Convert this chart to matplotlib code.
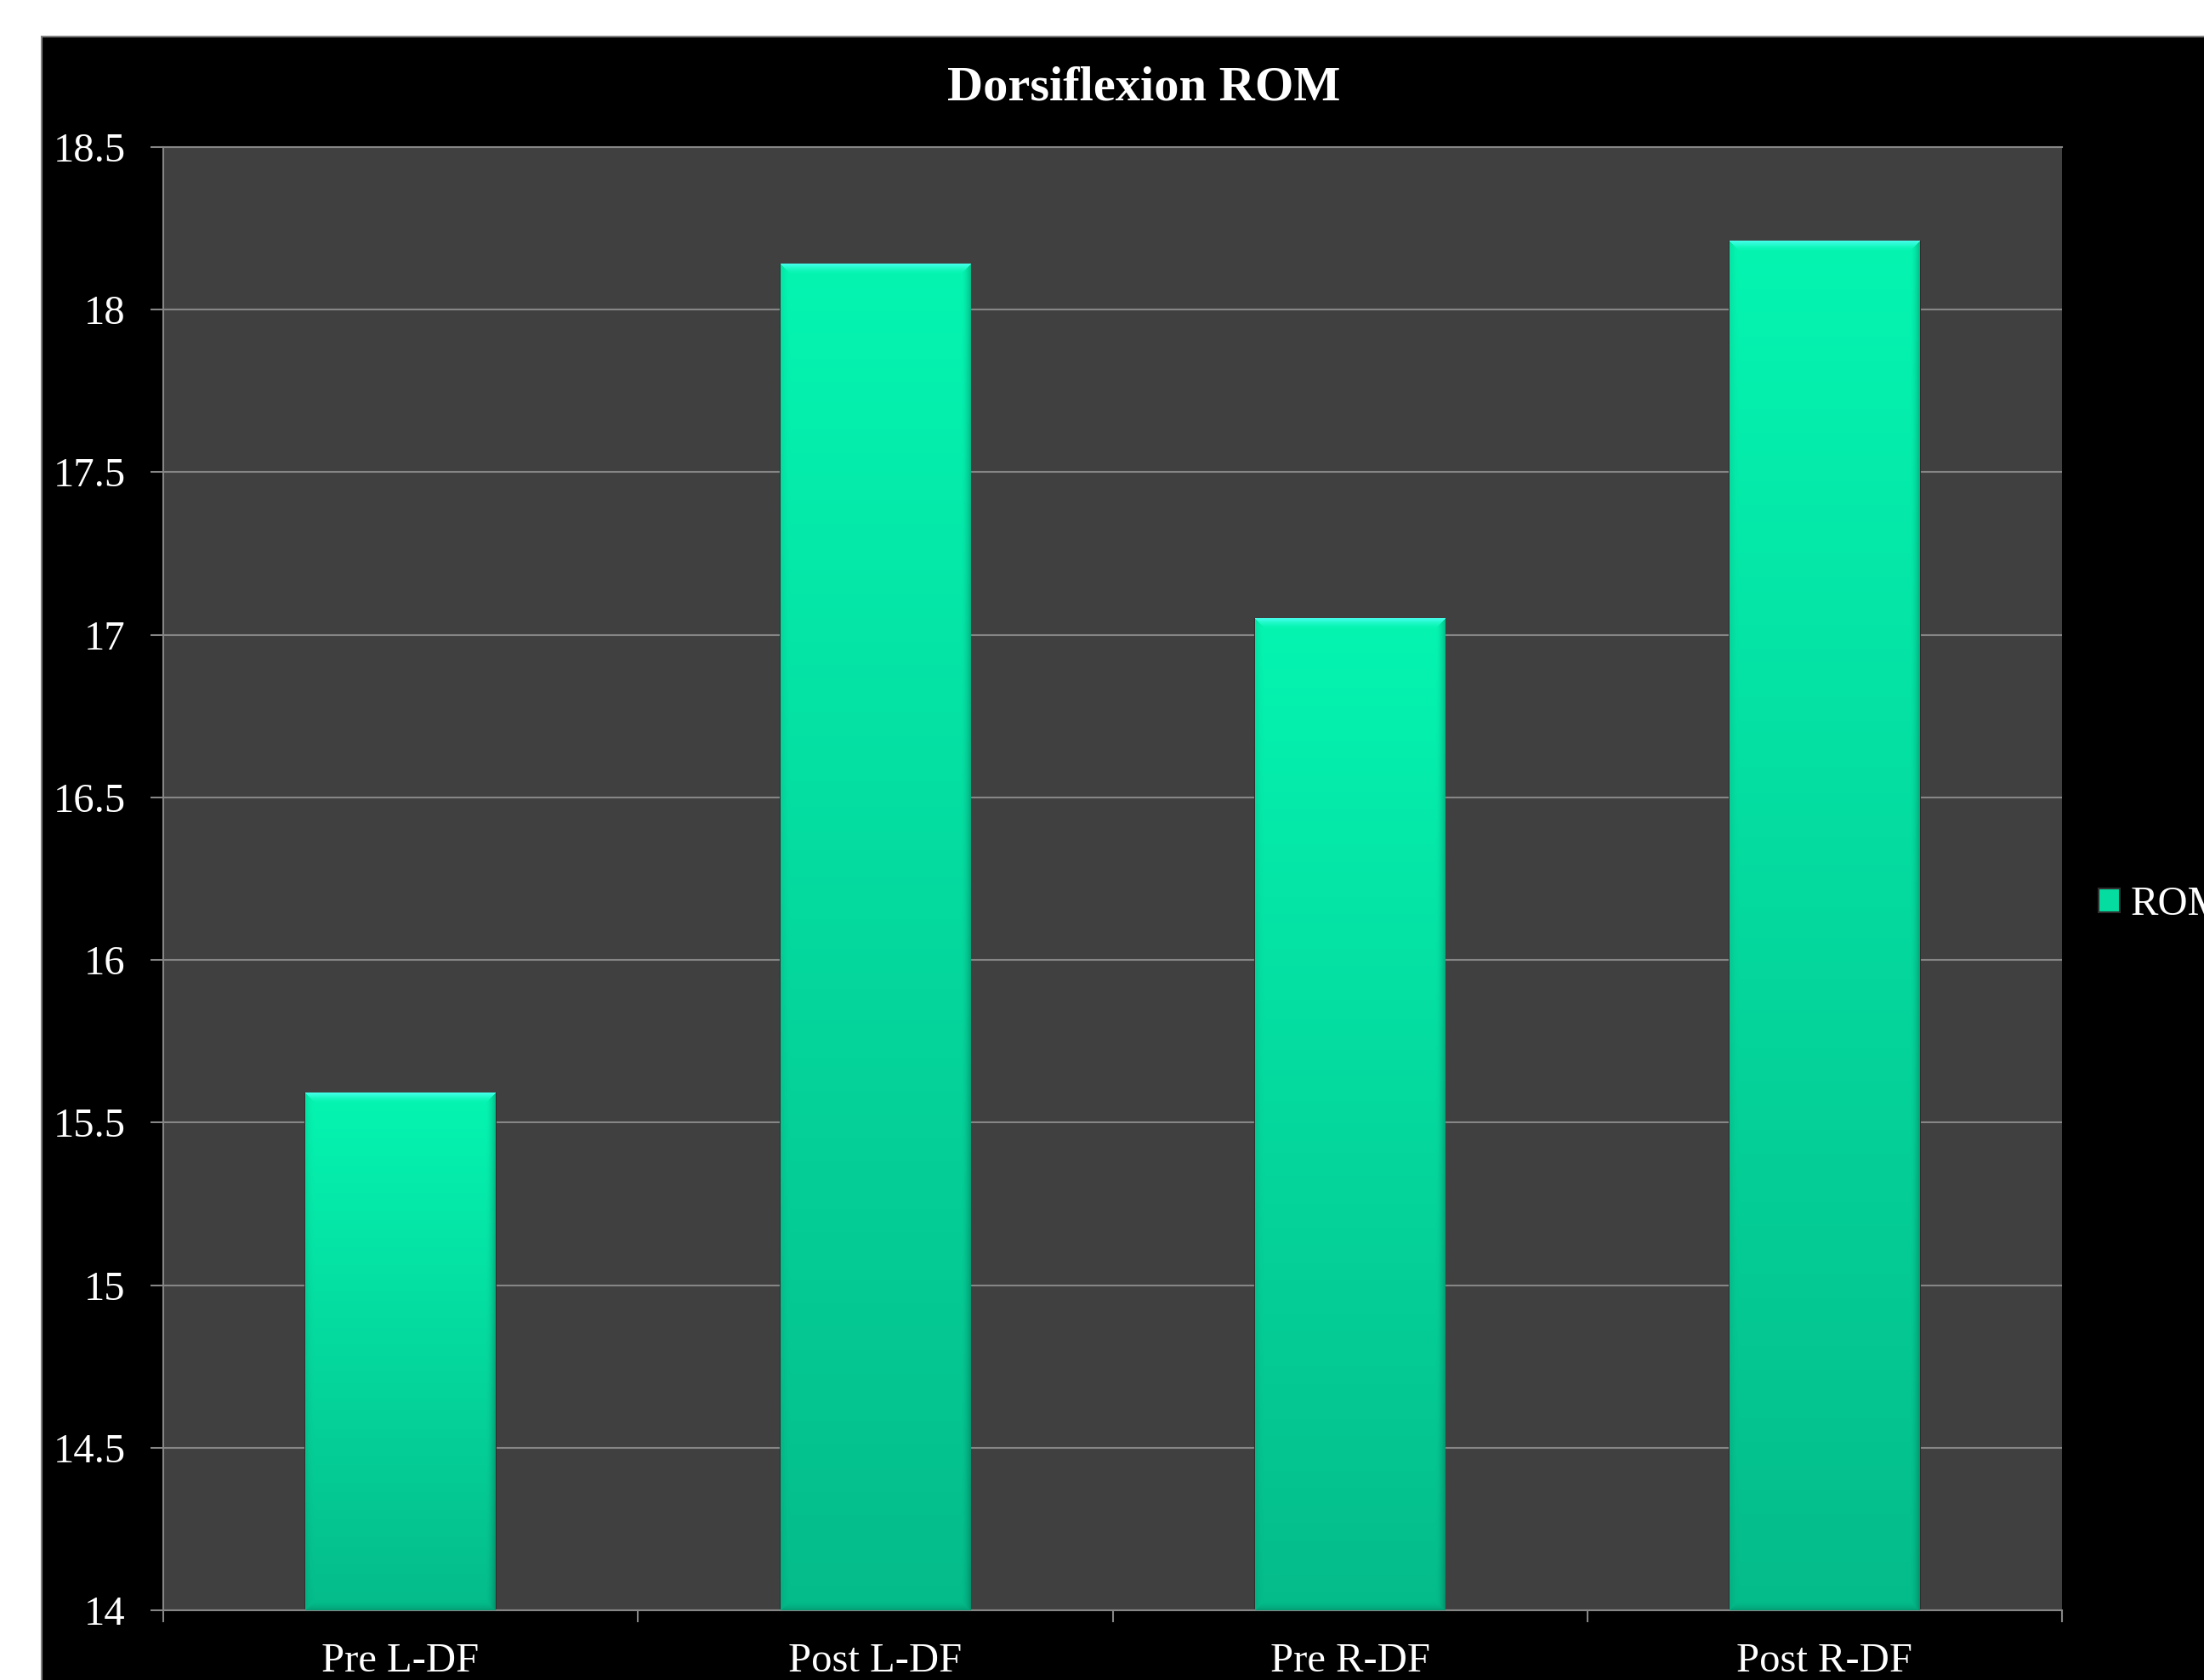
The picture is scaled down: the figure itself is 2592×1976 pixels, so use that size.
import numpy as np
import matplotlib
matplotlib.use("Agg")
import matplotlib.pyplot as plt
from matplotlib.patches import Rectangle
from matplotlib.ticker import FixedLocator, NullFormatter, FixedFormatter

# ---- data -------------------------------------------------------------
categories = ["Pre L-DF", "Post L-DF", "Pre R-DF", "Post R-DF"]
rom_values = [15.59, 18.14, 17.05, 18.21]
series_name = "ROM"
y_ticks = [14, 14.5, 15, 15.5, 16, 16.5, 17, 17.5, 18, 18.5]
title = "Dorsiflexion ROM"

# ---- figure & styling -------------------------------------------------
W, H = 2592, 1976
DPI = 100
plt.rcParams["font.family"] = ["Liberation Serif", "DejaVu Serif"]

fig = plt.figure(figsize=(W / DPI, H / DPI), dpi=DPI, facecolor="white")

# black chart area with a thin grey frame, kept behind the axes
fig.patches.append(Rectangle((49 / W, -0.1), 1.2, 1.1 - 43 / H,
                             transform=fig.transFigure, facecolor="black",
                             edgecolor="#7f7f7f", linewidth=1.5, zorder=-10))

ax = fig.add_axes([192 / W, 1 - 1894 / H, (2425 - 192) / W, (1894 - 173) / H])
ax.set_facecolor("#404040")

grey = "#868686"
x = np.arange(len(categories))
bars = ax.bar(x, rom_values, width=0.4, color="#05DCA0",
              edgecolor="#2f2f2f", linewidth=1.5, zorder=2)

ylo, yhi = y_ticks[0], y_ticks[-1]
ax.set_ylim(ylo, yhi)
ax.set_xlim(-0.5, len(categories) - 0.5)

# bevelled gradient fill for each bar, computed at screen resolution
top_c = np.array([0x05, 0xF5, 0xB1]) / 255
bot_c = np.array([0x04, 0xBC, 0x8A]) / 255
hi_c = np.array([0x45, 0xFF, 0xEA]) / 255
bevel = 12
for b in bars:
    x0 = b.get_x()
    x1 = x0 + b.get_width()
    y0 = max(b.get_y(), ylo)
    y1 = b.get_y() + b.get_height()
    (px0, py0), (px1, py1) = ax.transData.transform([(x0, y0), (x1, y1)])
    wpx = max(int(round(px1 - px0)), 2)
    hpx = max(int(round(py1 - py0)), 2)
    t = np.linspace(0, 1, hpx)[:, None, None]
    img = top_c * (1 - t) + bot_c * t
    img = np.broadcast_to(img, (hpx, wpx, 3)).copy()
    ii, jj = np.mgrid[0:hpx, 0:wpx]
    d = np.stack([ii, jj, wpx - 1 - jj, hpx - 1 - ii])
    edge = d.argmin(axis=0)
    dmin = d.min(axis=0)
    s = np.clip(1 - dmin / bevel, 0, 1)[..., None]
    top_m = (edge == 0)[..., None]
    left_m = (edge == 1)[..., None]
    right_m = (edge == 2)[..., None]
    bot_m = (edge == 3)[..., None]
    img = np.where(top_m, img + (hi_c - img) * s ** 1.6, img)
    img = np.where(left_m, img * (1 - 0.07 * s ** 2), img)
    img = np.where(right_m, img * (1 - 0.22 * s ** 2), img)
    img = np.where(bot_m, img * (1 - 0.15 * s ** 2), img)
    ax.imshow(np.clip(img, 0, 1), extent=(x0, x1, y0, y1), origin="upper",
              aspect="auto", interpolation="nearest", zorder=3)

ax.set_ylim(ylo, yhi)
ax.set_xlim(-0.5, len(categories) - 0.5)
ax.set_aspect("auto")

# grid & spines
ax.set_axisbelow(True)
ax.yaxis.grid(True, color=grey, linewidth=1.5)
for side in ("left", "bottom", "top"):
    ax.spines[side].set_color(grey)
    ax.spines[side].set_linewidth(1.5)
ax.spines["right"].set_visible(False)

# y axis
ax.set_yticks(y_ticks)
ax.set_yticklabels([f"{v:g}" for v in y_ticks])
ax.tick_params(axis="y", colors=grey, labelcolor="white", labelsize=35,
               length=11, width=1.5, pad=21)

# x axis: tick marks between categories, labels at category centres
ax.xaxis.set_major_locator(FixedLocator(np.arange(-0.5, len(categories), 1.0)))
ax.xaxis.set_major_formatter(NullFormatter())
ax.xaxis.set_minor_locator(FixedLocator(x))
ax.xaxis.set_minor_formatter(FixedFormatter(categories))
ax.tick_params(axis="x", which="major", colors=grey, length=10, width=1.5)
ax.tick_params(axis="x", which="minor", length=0, labelcolor="white",
               labelsize=35, pad=27)

# title centred on the chart area
fig.text(1345 / W, 1 - 117 / H, title, ha="center", va="baseline",
         fontsize=42, fontweight="bold", color="white")

# legend on the right
fig.legend([bars], [series_name], loc="center left",
           bbox_to_anchor=(2468 / W, 1 - 1064 / H), frameon=False,
           fontsize=35, labelcolor="white", handlelength=0.52,
           handleheight=0.52, handletextpad=0.25, borderpad=0,
           borderaxespad=0)

fig.savefig("out.png", dpi=DPI, facecolor=fig.get_facecolor())
